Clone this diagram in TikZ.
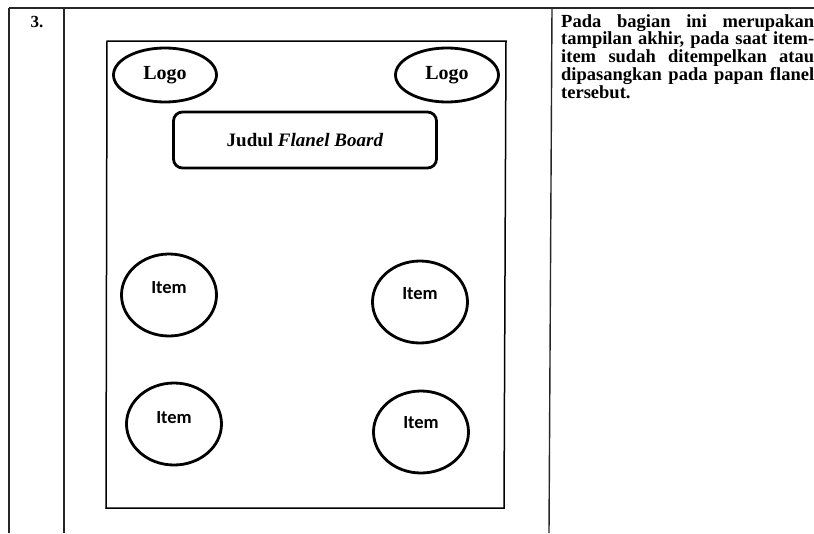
\documentclass[tikz,border=0pt]{standalone}
\usepackage{fontspec}
\setmainfont{Liberation Serif}
\newfontfamily\itemfont{Carlito}
\usetikzlibrary{shapes.geometric,positioning}

\begin{document}
\begin{tikzpicture}[x=1pt,y=-1pt]
 % one unit = one pixel of the page, y runs downwards
\tikzset{table line/.style={line width=1.4pt, black!85}}
\tikzset{logo node/.style={draw, ellipse, line width=2.8pt, inner sep=0pt, minimum width=103pt, minimum height=54pt, font=\bfseries\fontsize{20}{24}\selectfont}}
\tikzset{item node/.style={draw, ellipse, line width=2.8pt, inner sep=0pt, minimum width=95pt, minimum height=82pt, label={[font=\itemfont\bfseries\fontsize{18.5}{22}\selectfont, yshift=#1]center:Item}}, item node/.default=7pt}
\useasboundingbox (0,0) rectangle (814,533);
\fill[white] (0,0) rectangle (814,533);

% table cells
\draw[table line, line width=2pt] (9,8) -- (814,8);
\draw[table line] (9,8) -- (9,533);
\draw[table line] (64,8) -- (64,533);
\draw[table line] (552,8) -- (549,533);
\node[font=\bfseries\fontsize{17}{20}\selectfont] (num) at (37,22) {3.};

% the flanel board
\draw[line width=1.5pt] (107,41) -- (506,41) -- (504,508) -- (106,508) -- cycle;
\node[logo node] (logoL) at (165,75) {Logo};
\node[logo node] (logoR) at (447,75) {Logo};
\node[draw, rounded corners=9pt, line width=2.8pt, minimum width=263pt, minimum height=56pt, font=\bfseries\fontsize{19}{23}\selectfont] (judul) at (305,140) {Judul \textit{Flanel Board}};
\node[item node] (itemA) at (169,295) {};
\node[item node=8pt] (itemB) at (420,302) {};
\node[item node=6pt] (itemC) at (174,424) {};
\node[item node=9pt] (itemD) at (421,432) {};

% description
\node[anchor=north west, inner sep=0pt, text width=253pt, align=justify, font=\bfseries\fontsize{18.5}{16.6}\selectfont] (desc) at (561,14) {Pada bagian ini merupakan\linebreak tampilan akhir, pada saat item-\linebreak item sudah ditempelkan atau\linebreak dipasangkan pada papan flanel\linebreak tersebut.};
\end{tikzpicture}
\end{document}
